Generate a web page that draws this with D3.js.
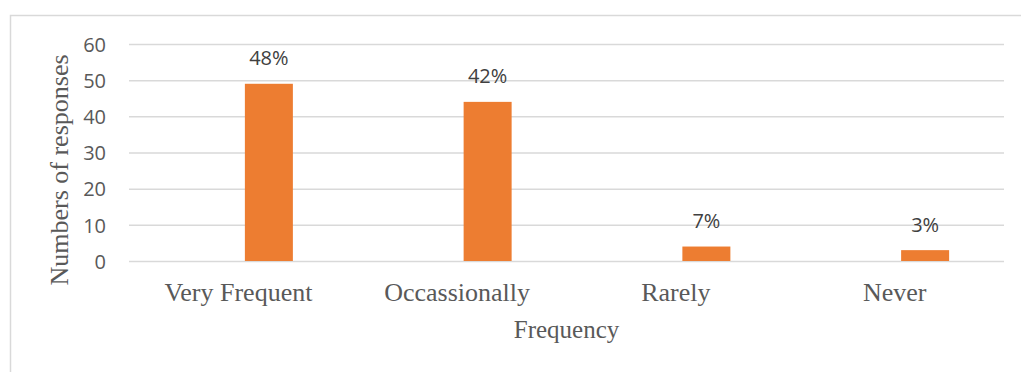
<!DOCTYPE html>
<html>
<head>
<meta charset="utf-8">
<script src="https://cdn.jsdelivr.net/npm/d3@7"></script>
<style>
  html, body { margin: 0; padding: 0; background: #fff; overflow: hidden; }
  svg { display: block; }
</style>
</head>
<body>
<svg id="chart" width="1021" height="372"></svg>
<script>
// Survey: how often respondents report the behaviour
const categories = ["Very Frequent", "Occassionally", "Rarely", "Never"];
const responses = [49, 44, 4, 3];
const percentLabels = ["48%", "42%", "7%", "3%"];
const yTicks = [0, 10, 20, 30, 40, 50, 60];

const W = 1021, H = 372;
const plot = { left: 129, right: 1004, top: 44, bottom: 261 };
const barWidth = 48, barShift = 6.5;

const svg = d3.select("#chart");

// outer chart frame (only top and left edges fall inside the view)
svg.append("rect")
  .attr("x", 10.5).attr("y", 15.5)
  .attr("width", W + 40).attr("height", H + 40)
  .attr("fill", "none").attr("stroke", "#d9d9d9").attr("stroke-width", 1.5);

const x = d3.scaleBand().domain(categories).range([plot.left, plot.right]).padding(0);
const y = d3.scaleLinear().domain([0, 60]).range([plot.bottom, plot.top]);

// horizontal gridlines + value labels
const yAxis = d3.axisLeft(y).tickValues(yTicks).tickSize(-(plot.right - plot.left)).tickPadding(23);
const gy = svg.append("g").attr("transform", `translate(${plot.left},0)`).call(yAxis);
gy.select(".domain").remove();
gy.selectAll(".tick line").attr("stroke", "#d9d9d9").attr("stroke-width", 1.5);
gy.selectAll(".tick text")
  .attr("fill", "#595959")
  .style("font-family", "'Open Sans', sans-serif")
  .style("font-size", "20px")
  .attr("dy", "0.36em");

// bars
svg.append("g").selectAll("rect")
  .data(categories)
  .join("rect")
  .attr("x", (d) => x(d) + x.bandwidth() / 2 + barShift)
  .attr("width", barWidth)
  .attr("y", (d, i) => y(responses[i]))
  .attr("height", (d, i) => y(0) - y(responses[i]))
  .attr("fill", "#ED7D31");

// percentage labels above bars
svg.append("g").selectAll("text")
  .data(categories)
  .join("text")
  .attr("x", (d) => x(d) + x.bandwidth() / 2 + barShift + barWidth / 2)
  .attr("y", (d, i) => y(responses[i]) - 18.5)
  .attr("text-anchor", "middle")
  .attr("fill", "#404040")
  .style("font-family", "'Open Sans', sans-serif")
  .style("font-size", "20px")
  .text((d, i) => percentLabels[i]);

// category labels
const xAxis = d3.axisBottom(x).tickSize(0).tickPadding(0);
const gx = svg.append("g").attr("transform", `translate(0,${plot.bottom})`).call(xAxis);
gx.select(".domain").remove();
gx.selectAll(".tick text")
  .attr("y", 39.7).attr("dy", 0)
  .attr("fill", "#595959")
  .style("font-family", "'Liberation Serif', 'Times New Roman', serif")
  .style("font-size", "26px");

// axis titles
svg.append("text")
  .attr("x", (plot.left + plot.right) / 2)
  .attr("y", 338)
  .attr("text-anchor", "middle")
  .attr("fill", "#595959")
  .style("font-family", "'Liberation Serif', 'Times New Roman', serif")
  .style("font-size", "25px")
  .text("Frequency");

svg.append("text")
  .attr("transform", "translate(68,170) rotate(-90)")
  .attr("text-anchor", "middle")
  .attr("fill", "#595959")
  .style("font-family", "'Liberation Serif', 'Times New Roman', serif")
  .style("font-size", "26px")
  .text("Numbers of responses");
</script>
</body>
</html>
